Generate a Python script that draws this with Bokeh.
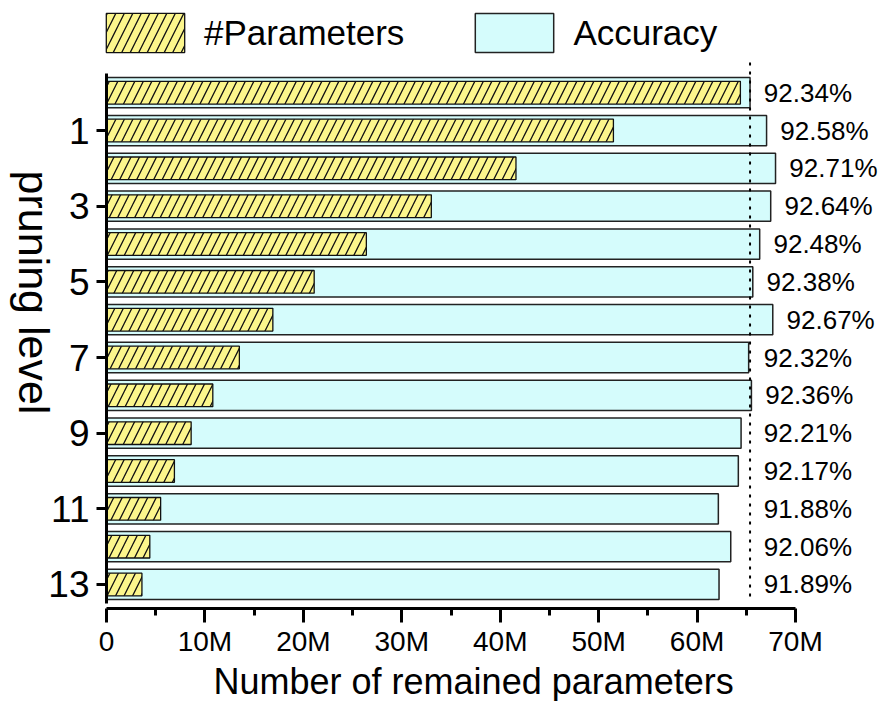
import math
from bokeh.plotting import figure
from bokeh.models import ColumnDataSource, Range1d, FixedTicker, Legend, LegendItem, Label
from bokeh.embed import file_html
from bokeh.resources import INLINE
from bokeh.core.properties import value

# ---- data ----
levels = list(range(14))
params_m = [64.4, 51.5, 41.6, 33.0, 26.4, 21.1, 16.9, 13.5, 10.8, 8.6, 6.9, 5.5, 4.4, 3.6]
accuracy = [92.34, 92.58, 92.71, 92.64, 92.48, 92.38, 92.67, 92.32, 92.36, 92.21, 92.17, 91.88, 92.06, 91.89]
y_ticks = [1, 3, 5, 7, 9, 11, 13]
x_ticks = [0, 10, 20, 30, 40, 50, 60, 70]
x_tick_labels = ["0", "10M", "20M", "30M", "40M", "50M", "60M", "70M"]
x_minor_ticks = [5, 15, 25, 35, 45, 55, 65]
x_title = "Number of remained parameters"
y_title = "pruning level"

# accuracy drawn on the parameter axis: (acc - base) * scale  [M per %]
ACC_BASE = 83.0
ACC_SCALE = 7.0
acc_len = [(a - ACC_BASE) * ACC_SCALE for a in accuracy]
base_len = acc_len[0]
label_x = [max(v, base_len) + 1.4 for v in acc_len]
acc_labels = ["%.2f%%" % a for a in accuracy]

src = ColumnDataSource(dict(y=levels, par=params_m, acc=acc_len, lx=label_x, lab=acc_labels))

FONT = "Liberation Sans"

# the frame covers the whole canvas; axes sit at fixed data locations
p = figure(width=890, height=701, output_backend="svg", toolbar_location=None,
           x_range=Range1d(-10.769, 79.65), y_range=Range1d(16.093, -2.437),
           min_border=0, min_border_left=0, min_border_right=0,
           min_border_top=0, min_border_bottom=0)
p.outline_line_color = None
p.xgrid.visible = False
p.ygrid.visible = False
p.background_fill_color = "white"

r_acc = p.hbar(y="y", left=0, right="acc", height=0.8, source=src,
               fill_color="#D5FCFC", line_color="#222222", line_width=1.5)
r_par = p.hbar(y="y", left=0, right="par", height=0.6, source=src,
               fill_color="#FCF68C", line_color="#111111", line_width=1.3,
               hatch_pattern="/", hatch_color="#111111", hatch_scale=17, hatch_weight=1.3)

p.segment(x0=base_len, y0=-0.8, x1=base_len, y1=13.42, line_color="black",
          line_width=2, line_dash="3 6")

p.text(x="lx", y="y", text="lab", source=src, text_font=value(FONT), text_font_size="26px",
       text_baseline="middle", text_align="left", text_color="black")

# x axis
xa = p.xaxis[0]
xa.fixed_location = 13.634
xa.ticker = FixedTicker(ticks=x_ticks, minor_ticks=x_minor_ticks)
xa.bounds = (0, 70)
xa.major_label_overrides = {t: l for t, l in zip(x_ticks, x_tick_labels)}
xa.axis_line_width = 3
xa.major_tick_line_width = 3
xa.minor_tick_line_width = 3
xa.major_tick_out = 14
xa.major_tick_in = 0
xa.minor_tick_out = 7
xa.minor_tick_in = 0
xa.major_label_standoff = 4
xa.major_label_text_font = FONT
xa.major_label_text_font_size = "28px"
xa.major_label_text_color = "black"

# y axis
ya = p.yaxis[0]
ya.fixed_location = 0
ya.ticker = FixedTicker(ticks=y_ticks, minor_ticks=[])
ya.bounds = (-0.5, 13.5)
ya.axis_line_width = 3
ya.major_tick_line_width = 3
ya.major_tick_out = 10
ya.major_tick_in = 0
ya.minor_tick_out = 0
ya.minor_tick_in = 0
ya.major_label_standoff = 7
ya.major_label_text_font = FONT
ya.major_label_text_font_size = "37px"
ya.major_label_text_color = "black"

# axis titles
p.add_layout(Label(x=37.3, y=15.56, text=x_title, text_font=FONT, text_font_size="36px",
                   text_align="center", text_baseline="middle", text_color="black"))
p.add_layout(Label(x=-7.4, y=5.28, text=y_title, text_font=FONT, text_font_size="43px",
                   text_align="center", text_baseline="middle", text_color="black",
                   angle=-math.pi / 2))

legend = Legend(items=[LegendItem(label="#Parameters", renderers=[r_par]),
                       LegendItem(label="Accuracy", renderers=[r_acc])],
                orientation="horizontal", location=(96, 644),
                glyph_width=98, glyph_height=49, label_standoff=10, spacing=61,
                padding=0, margin=0, border_line_color=None, background_fill_alpha=0,
                label_text_font=FONT, label_text_font_size="35px", label_text_color="black")
p.add_layout(legend)

open("out.html", "w").write(file_html(p, INLINE))
